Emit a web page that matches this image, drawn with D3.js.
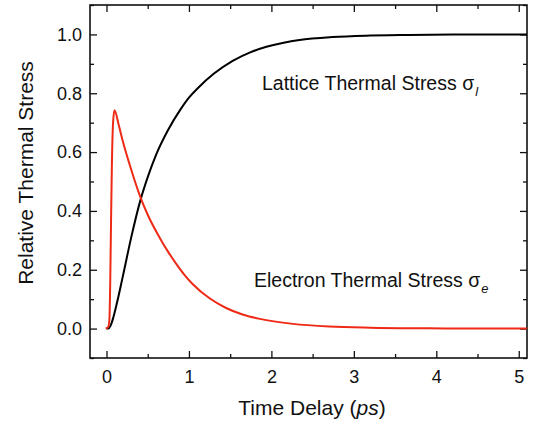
<!DOCTYPE html>
<html>
<head>
<meta charset="utf-8">
<script src="https://cdn.jsdelivr.net/npm/d3@7"></script>
<style>
  body { margin: 0; background: #fff; }
  text { font-family: "Liberation Sans", Arial, sans-serif; fill: #111; }
</style>
</head>
<body>
<div id="chart"></div>
<script>
// values (time in ps, relative stress)
const latticeT = [0, 0.02, 0.05, 0.08, 0.125, 0.2, 0.3, 0.41, 0.5, 0.6, 0.75, 0.9, 1.0, 1.11, 1.3, 1.53, 1.75, 1.94, 2.15, 2.34, 2.74, 3.2, 3.56, 4.2, 5.1];
const latticeV = [0, 0, 0.01, 0.035, 0.085, 0.18, 0.31, 0.435, 0.515, 0.59, 0.677, 0.746, 0.785, 0.818, 0.866, 0.91, 0.94, 0.958, 0.972, 0.981, 0.991, 0.996, 0.998, 1.0, 1.0];

const electronT = [-0.01, 0.02, 0.035, 0.045, 0.055, 0.065, 0.08, 0.097, 0.15, 0.2, 0.3, 0.41, 0.5, 0.643, 0.75, 0.846, 0.95, 1.05, 1.25, 1.45, 1.65, 1.86, 2.26, 2.7, 3.2, 3.9, 4.5, 5.1];
const electronV = [0, 0.005, 0.03, 0.15, 0.36, 0.55, 0.7, 0.742, 0.69, 0.635, 0.54, 0.448, 0.387, 0.31, 0.26, 0.22, 0.181, 0.15, 0.103, 0.07, 0.048, 0.033, 0.016, 0.007, 0.003, 0.001, 0, 0];

const xMajor = [0, 1, 2, 3, 4, 5];
const xMinor = [0.5, 1.5, 2.5, 3.5, 4.5];
const yMajor = [0, 0.2, 0.4, 0.6, 0.8, 1.0];
const yMinor = [-0.1, 0.1, 0.3, 0.5, 0.7, 0.9, 1.1];

const width = 536, height = 424;
const margin = { top: 5, right: 9, bottom: 66, left: 90 };
const w = width - margin.left - margin.right,
    h = height - margin.top - margin.bottom;

const svg = d3.select("#chart")
    .append("svg")
    .attr("width", width)
    .attr("height", height);

const g = svg.append("g")
    .attr("transform", `translate(${margin.left}, ${margin.top})`);

const x = d3.scaleLinear().domain([-0.2, 5.1]).range([0, w]);
const y = d3.scaleLinear().domain([-0.1, 1.1]).range([h, 0]);

// ticks, all pointing inward
function styleAxis(sel) {
    sel.select(".domain").remove();
    sel.selectAll("line").attr("stroke", "#111").attr("stroke-width", 1.3);
    sel.selectAll("text").style("font-size", "18px").style("font-family", "Liberation Sans, Arial, sans-serif").attr("fill", "#111");
}

g.append("g").attr("transform", `translate(0,${h})`)
    .call(d3.axisBottom(x).tickValues(xMajor).tickFormat(d3.format("d")).tickSizeInner(-7).tickPadding(12))
    .call(styleAxis);
g.append("g").attr("transform", `translate(0,${h})`)
    .call(d3.axisBottom(x).tickValues(xMinor).tickFormat("").tickSizeInner(-4))
    .call(styleAxis);
g.append("g")
    .call(d3.axisTop(x).tickValues(xMajor).tickFormat("").tickSizeInner(-7))
    .call(styleAxis);
g.append("g")
    .call(d3.axisTop(x).tickValues(xMinor).tickFormat("").tickSizeInner(-4))
    .call(styleAxis);

g.append("g")
    .call(d3.axisLeft(y).tickValues(yMajor).tickFormat(d3.format(".1f")).tickSizeInner(-7).tickPadding(8))
    .call(styleAxis);
g.append("g")
    .call(d3.axisLeft(y).tickValues(yMinor).tickFormat("").tickSizeInner(-4))
    .call(styleAxis);
g.append("g").attr("transform", `translate(${w},0)`)
    .call(d3.axisRight(y).tickValues(yMajor).tickFormat("").tickSizeInner(-7))
    .call(styleAxis);
g.append("g").attr("transform", `translate(${w},0)`)
    .call(d3.axisRight(y).tickValues(yMinor).tickFormat("").tickSizeInner(-4))
    .call(styleAxis);

// frame
g.append("rect")
    .attr("width", w)
    .attr("height", h)
    .attr("fill", "none")
    .attr("stroke", "#111")
    .attr("stroke-width", 1.6);

const line = d3.line()
    .x(d => x(d[0]))
    .y(d => y(d[1]))
    .curve(d3.curveMonotoneX);

g.append("path")
    .datum(d3.zip(latticeT, latticeV))
    .attr("d", line)
    .attr("fill", "none")
    .attr("stroke", "#000")
    .attr("stroke-width", 2);

g.append("path")
    .datum(d3.zip(electronT, electronV))
    .attr("d", line)
    .attr("fill", "none")
    .attr("stroke", "#ee2a16")
    .attr("stroke-width", 2);

// annotations
function label(tx, ty, name, sub) {
    const t = svg.append("text")
        .attr("x", tx)
        .attr("y", ty)
        .style("font-size", "19.5px");
    t.append("tspan").text(name + " \u03c3");
    t.append("tspan")
        .attr("dy", 6)
        .attr("dx", 1)
        .style("font-size", "13px")
        .style("font-style", "italic")
        .text(sub);
}
label(262, 90, "Lattice Thermal Stress", "l");
label(254, 287, "Electron Thermal Stress", "e");

// axis titles
const xt = svg.append("text")
    .attr("x", 312)
    .attr("y", 415)
    .attr("text-anchor", "middle")
    .style("font-size", "21px");
xt.append("tspan").text("Time Delay (");
xt.append("tspan").style("font-style", "italic").text("ps");
xt.append("tspan").text(")");

svg.append("text")
    .attr("transform", "translate(33,173) rotate(-90)")
    .attr("text-anchor", "middle")
    .style("font-size", "21px")
    .text("Relative Thermal Stress");
</script>
</body>
</html>
